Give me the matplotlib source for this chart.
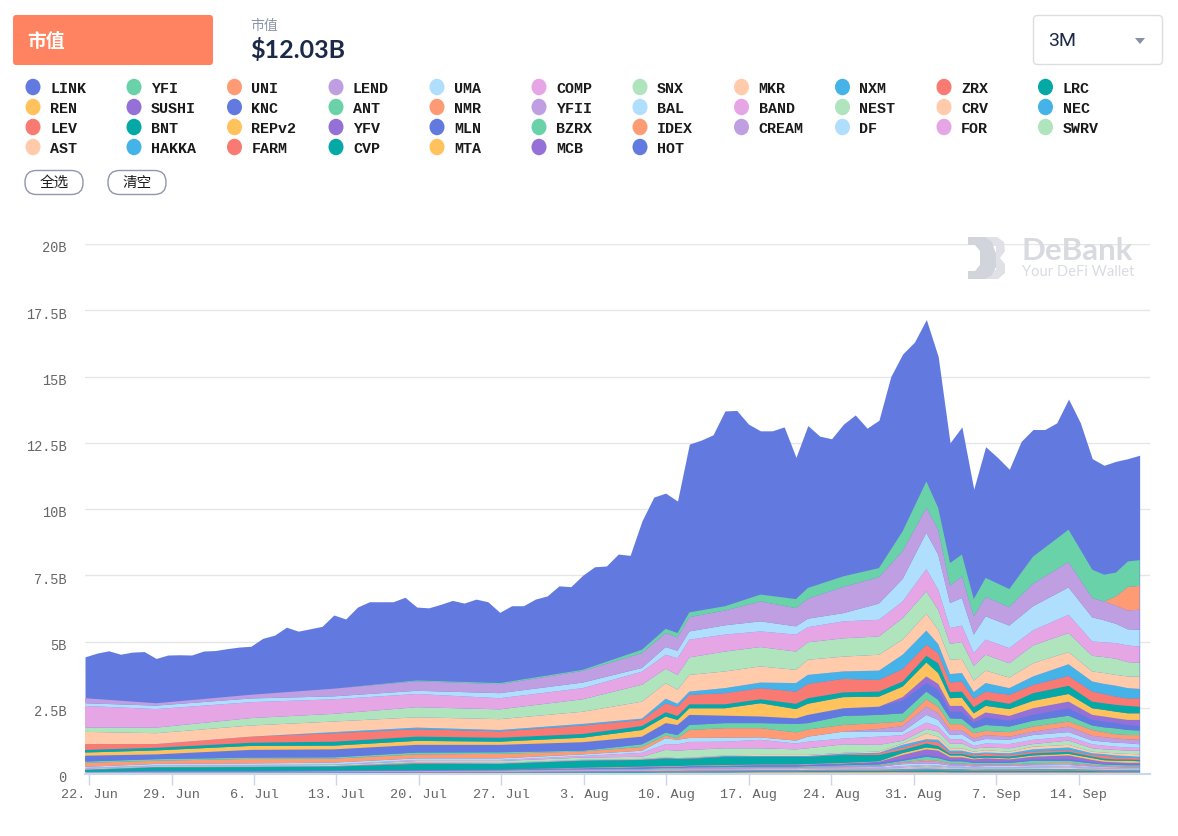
import numpy as np
import matplotlib
matplotlib.use("Agg")
import matplotlib.pyplot as plt
from matplotlib.patches import Ellipse, FancyBboxPatch, Polygon
from matplotlib.transforms import ScaledTranslation

W, H = 1178, 837

names = ["LINK", "YFI", "UNI", "LEND", "UMA", "COMP", "SNX", "MKR", "NXM", "ZRX", "LRC",
         "REN", "SUSHI", "KNC", "ANT", "NMR", "YFII", "BAL", "BAND", "NEST", "CRV", "NEC",
         "LEV", "BNT", "REPv2", "YFV", "MLN", "BZRX", "IDEX", "CREAM", "DF", "FOR", "SWRV",
         "AST", "HAKKA", "FARM", "CVP", "MTA", "MCB", "HOT"]
palette = ["#627ae0", "#6ad2a9", "#ff9b74", "#bf9fe2", "#b0dffe", "#e6a5e5", "#b0e4bc",
           "#ffcbab", "#46b3e8", "#f87a72", "#04a9a5", "#ffc25c", "#9570d6"]

tick_dates = ["22. Jun", "29. Jun", "6. Jul", "13. Jul", "20. Jul", "27. Jul", "3. Aug",
              "10. Aug", "17. Aug", "24. Aug", "31. Aug", "7. Sep", "14. Sep"]
y_ticks = [0, 2.5, 5, 7.5, 10, 12.5, 15, 17.5, 20]
y_labels = ["0", "2.5B", "5B", "7.5B", "10B", "12.5B", "15B", "17.5B", "20B"]

# total market cap, one value a day (billions), top edge of the LINK band
total_cap = [4.42, 4.56, 4.65, 4.52, 4.6, 4.62, 4.36, 4.49, 4.5, 4.49,
             4.64, 4.66, 4.73, 4.79, 4.82, 5.12, 5.24, 5.54, 5.39, 5.48,
             5.57, 6.0, 5.85, 6.3, 6.5, 6.5, 6.5, 6.67, 6.3, 6.27,
             6.4, 6.55, 6.45, 6.6, 6.5, 6.1, 6.35, 6.35, 6.6, 6.72,
             7.1, 7.07, 7.5, 7.82, 7.85, 8.3, 8.25, 9.55, 10.45, 10.6,
             10.3, 12.45, 12.6, 12.8, 13.7, 13.72, 13.2, 12.95, 12.95, 13.1,
             11.95, 13.15, 12.75, 12.65, 13.2, 13.55, 13.05, 13.35, 15.0, 15.85,
             16.3, 17.15, 15.75, 12.5, 13.1, 10.75, 12.35, 11.95, 11.5, 12.55,
             13.0, 13.0, 13.25, 14.15, 13.25, 11.9, 11.65, 11.8, 11.9, 12.03]

read_days = [0, 6, 14, 21, 28, 35, 42, 47, 49, 50, 51, 54, 57, 60, 61, 64,
             67, 69, 71, 72, 73, 74, 75, 76, 78, 80, 83, 85, 86, 87, 88, 89]

top_yfi = [2.86, 2.67, 2.99, 3.22, 3.53, 3.43, 3.93, 4.69, 5.48, 5.32, 6.1, 6.33, 6.77, 6.6, 7.02, 7.46,
           7.77, 9.16, 11.04, 10.04, 7.96, 8.28, 6.6, 7.4, 6.98, 8.2, 9.22, 7.71, 7.52, 7.6, 8.02, 8.07]
top_uni = [2.86, 2.67, 2.99, 3.22, 3.5, 3.39, 3.89, 4.56, 5.32, 5.15, 5.92, 6.17, 6.51, 6.26, 6.62, 7.06,
           7.43, 8.41, 10.04, 9.23, 7.1, 7.46, 5.95, 6.68, 6.3, 7.18, 8.0, 6.64, 6.51, 6.7, 7.06, 7.1]
top_lend = [2.86, 2.67, 2.99, 3.22, 3.5, 3.39, 3.89, 4.56, 5.32, 5.15, 5.92, 6.17, 6.51, 6.26, 6.62, 7.06,
            7.43, 8.41, 10.04, 9.23, 7.1, 7.46, 5.95, 6.68, 6.3, 7.18, 8.0, 6.64, 6.51, 6.35, 6.17, 6.2]
top_uma = [2.67, 2.58, 2.85, 2.93, 3.14, 3.05, 3.45, 4.0, 4.79, 4.65, 5.38, 5.61, 5.76, 5.57, 5.86, 6.07,
           6.43, 7.36, 9.1, 8.28, 6.45, 6.64, 5.26, 5.95, 5.6, 6.33, 7.04, 5.91, 5.8, 5.67, 5.46, 5.44]
top_comp = [2.57, 2.45, 2.71, 2.82, 3.02, 2.86, 3.24, 3.86, 4.5, 4.37, 5.07, 5.26, 5.38, 5.26, 5.54, 5.76,
            5.82, 6.51, 7.73, 6.96, 5.51, 5.6, 4.56, 5.07, 4.75, 5.42, 6.01, 5.0, 4.97, 4.94, 4.85, 4.81]
top_snx = [1.75, 1.75, 2.11, 2.27, 2.52, 2.44, 2.82, 3.37, 3.97, 3.74, 4.4, 4.62, 4.79, 4.62, 4.97, 5.12,
           5.19, 5.88, 6.89, 6.2, 4.91, 4.98, 4.08, 4.5, 4.18, 4.85, 5.32, 4.46, 4.41, 4.35, 4.22, 4.2]
top_mkr = [1.59, 1.54, 1.83, 1.98, 2.14, 2.07, 2.35, 2.73, 3.43, 3.18, 3.74, 3.87, 4.06, 3.93, 4.31, 4.43,
           4.5, 5.07, 6.05, 5.44, 4.31, 4.34, 3.52, 3.9, 3.64, 4.18, 4.6, 3.87, 3.81, 3.74, 3.68, 3.68]
top_nxm = [1.13, 1.13, 1.41, 1.58, 1.75, 1.66, 1.89, 2.09, 2.84, 2.65, 3.11, 3.24, 3.45, 3.43, 3.74, 3.87,
           3.9, 4.5, 5.41, 4.9, 3.77, 3.81, 3.09, 3.43, 3.24, 3.68, 4.14, 3.49, 3.4, 3.33, 3.24, 3.21]
top_zrx = [1.13, 1.13, 1.41, 1.54, 1.69, 1.61, 1.83, 2.04, 2.67, 2.54, 2.99, 3.05, 3.24, 3.11, 3.4, 3.59,
           3.55, 3.96, 4.88, 4.56, 3.45, 3.49, 2.84, 3.11, 2.99, 3.36, 3.7, 3.11, 3.02, 2.92, 2.85, 2.86]
top_lrc = [0.91, 0.99, 1.18, 1.22, 1.41, 1.37, 1.51, 1.81, 2.33, 2.19, 2.63, 2.63, 2.82, 2.65, 2.86, 3.08,
           3.11, 3.49, 4.46, 4.18, 3.09, 3.11, 2.52, 2.8, 2.65, 3.05, 3.33, 2.73, 2.67, 2.61, 2.57, 2.54]
top_ren = [0.81, 0.89, 1.06, 1.07, 1.25, 1.22, 1.37, 1.66, 2.17, 2.04, 2.48, 2.48, 2.67, 2.45, 2.65, 2.9,
           2.92, 3.3, 4.21, 3.81, 2.86, 2.88, 2.29, 2.57, 2.45, 2.76, 3.02, 2.48, 2.42, 2.35, 2.29, 2.29]
top_sushi = [0.69, 0.74, 0.91, 0.93, 1.1, 1.1, 1.2, 1.41, 1.92, 1.85, 2.23, 2.2, 2.17, 2.1, 2.23, 2.48,
             2.54, 2.9, 3.68, 3.4, 2.57, 2.57, 2.07, 2.32, 2.19, 2.48, 2.73, 2.23, 2.17, 2.1, 2.04, 2.04]
top_knc = [0.69, 0.74, 0.91, 0.93, 1.1, 1.1, 1.2, 1.41, 1.92, 1.85, 2.23, 2.2, 2.17, 2.1, 2.23, 2.48,
           2.54, 2.77, 3.43, 3.18, 2.35, 2.35, 1.94, 2.14, 2.01, 2.23, 2.48, 2.04, 1.98, 1.92, 1.85, 1.81]
top_ant = [0.47, 0.56, 0.62, 0.63, 0.81, 0.82, 0.88, 1.12, 1.56, 1.47, 1.85, 1.92, 1.92, 1.89, 1.92, 2.19,
           2.23, 2.29, 3.11, 2.8, 2.1, 2.08, 1.72, 1.85, 1.79, 2.01, 2.2, 1.83, 1.76, 1.72, 1.66, 1.64]
top_nmr = [0.42, 0.5, 0.57, 0.58, 0.74, 0.76, 0.85, 1.02, 1.45, 1.35, 1.66, 1.73, 1.73, 1.57, 1.68, 1.85,
           1.92, 1.98, 2.82, 2.54, 1.88, 1.88, 1.54, 1.63, 1.58, 1.79, 1.98, 1.66, 1.58, 1.5, 1.47, 1.47]
top_yfii = [0.27, 0.38, 0.4, 0.43, 0.59, 0.59, 0.74, 0.88, 1.35, 1.29, 1.36, 1.37, 1.38, 1.26, 1.41, 1.6,
            1.7, 1.81, 2.54, 2.29, 1.66, 1.66, 1.34, 1.47, 1.41, 1.6, 1.79, 1.44, 1.39, 1.34, 1.31, 1.29]
top_bal = [0.27, 0.38, 0.4, 0.43, 0.59, 0.59, 0.74, 0.88, 1.35, 1.29, 1.36, 1.37, 1.38, 1.26, 1.41, 1.6,
           1.6, 1.6, 2.23, 2.04, 1.47, 1.5, 1.22, 1.32, 1.29, 1.47, 1.58, 1.26, 1.22, 1.18, 1.16, 1.12]
top_band = [0.23, 0.32, 0.34, 0.36, 0.53, 0.53, 0.68, 0.8, 1.13, 1.12, 1.21, 1.22, 1.29, 1.15, 1.22, 1.34,
            1.41, 1.47, 1.94, 1.79, 1.31, 1.31, 1.06, 1.15, 1.13, 1.29, 1.41, 1.12, 1.07, 1.03, 1.0, 0.99]
top_nest = [0.2, 0.3, 0.32, 0.34, 0.49, 0.49, 0.62, 0.65, 0.91, 0.88, 0.91, 0.97, 0.97, 0.93, 0.97, 1.12,
            1.1, 1.25, 1.7, 1.6, 1.15, 1.15, 0.96, 1.0, 0.97, 1.13, 1.26, 0.97, 0.93, 0.91, 0.88, 0.88]
top_crv = [0.17, 0.27, 0.28, 0.3, 0.44, 0.42, 0.54, 0.57, 0.63, 0.6, 0.62, 0.7, 0.72, 0.72, 0.72, 0.8,
           0.85, 1.15, 1.53, 1.41, 0.97, 0.97, 0.84, 0.9, 0.84, 1.03, 1.1, 0.84, 0.81, 0.78, 0.76, 0.74]
top_nec = [0.17, 0.27, 0.28, 0.3, 0.42, 0.4, 0.52, 0.55, 0.61, 0.59, 0.6, 0.68, 0.68, 0.68, 0.68, 0.77,
           0.8, 1.1, 1.31, 1.29, 0.88, 0.88, 0.78, 0.81, 0.78, 0.93, 1.0, 0.78, 0.75, 0.7, 0.68, 0.65]
top_lev = [0.16, 0.26, 0.27, 0.29, 0.41, 0.39, 0.51, 0.54, 0.6, 0.58, 0.59, 0.66, 0.66, 0.66, 0.66, 0.74,
           0.78, 1.0, 1.25, 1.2, 0.81, 0.81, 0.72, 0.76, 0.72, 0.85, 0.9, 0.72, 0.7, 0.63, 0.62, 0.59]
top_bnt = [0.15, 0.25, 0.26, 0.28, 0.38, 0.38, 0.5, 0.53, 0.58, 0.57, 0.57, 0.65, 0.65, 0.65, 0.65, 0.72,
           0.72, 0.91, 1.15, 1.06, 0.76, 0.76, 0.66, 0.68, 0.66, 0.78, 0.84, 0.66, 0.58, 0.55, 0.55, 0.53]
top_repv2 = [0.08, 0.12, 0.12, 0.14, 0.15, 0.17, 0.24, 0.28, 0.3, 0.3, 0.32, 0.34, 0.36, 0.36, 0.38, 0.42,
             0.48, 0.79, 1.0, 0.95, 0.7, 0.7, 0.59, 0.62, 0.59, 0.7, 0.76, 0.6, 0.52, 0.5, 0.5, 0.48]
top_yfv = [0.08, 0.12, 0.12, 0.14, 0.15, 0.17, 0.22, 0.26, 0.28, 0.28, 0.3, 0.32, 0.34, 0.34, 0.36, 0.4,
           0.46, 0.72, 0.93, 0.88, 0.63, 0.63, 0.55, 0.59, 0.55, 0.65, 0.7, 0.53, 0.46, 0.44, 0.42, 0.42]
top_mln = [0.07, 0.1, 0.1, 0.12, 0.13, 0.15, 0.19, 0.22, 0.25, 0.25, 0.27, 0.29, 0.31, 0.31, 0.33, 0.37,
           0.42, 0.55, 0.72, 0.65, 0.53, 0.53, 0.46, 0.46, 0.46, 0.55, 0.56, 0.44, 0.38, 0.38, 0.36, 0.36]
top_bzrx = [0.07, 0.09, 0.09, 0.11, 0.12, 0.14, 0.18, 0.2, 0.23, 0.23, 0.25, 0.26, 0.28, 0.28, 0.3, 0.33,
            0.36, 0.5, 0.65, 0.6, 0.48, 0.48, 0.42, 0.42, 0.42, 0.5, 0.5, 0.4, 0.36, 0.34, 0.33, 0.33]
top_idex = [0.06, 0.08, 0.08, 0.1, 0.11, 0.13, 0.17, 0.18, 0.2, 0.2, 0.22, 0.23, 0.25, 0.25, 0.27, 0.3,
            0.32, 0.45, 0.53, 0.5, 0.4, 0.4, 0.36, 0.36, 0.36, 0.4, 0.42, 0.34, 0.31, 0.3, 0.28, 0.28]
top_cream = [0.06, 0.08, 0.08, 0.1, 0.11, 0.13, 0.17, 0.18, 0.2, 0.2, 0.22, 0.22, 0.24, 0.24, 0.26, 0.28,
             0.3, 0.42, 0.48, 0.45, 0.37, 0.37, 0.33, 0.33, 0.33, 0.37, 0.38, 0.31, 0.28, 0.27, 0.25, 0.25]
top_df = [0.06, 0.08, 0.08, 0.1, 0.11, 0.13, 0.16, 0.17, 0.19, 0.19, 0.2, 0.2, 0.22, 0.22, 0.24, 0.25,
          0.27, 0.37, 0.4, 0.38, 0.32, 0.32, 0.28, 0.3, 0.3, 0.33, 0.34, 0.28, 0.26, 0.25, 0.23, 0.23]
top_for = [0.05, 0.07, 0.07, 0.09, 0.1, 0.12, 0.15, 0.16, 0.18, 0.18, 0.19, 0.19, 0.2, 0.2, 0.22, 0.23,
           0.24, 0.3, 0.34, 0.32, 0.28, 0.28, 0.25, 0.26, 0.26, 0.28, 0.3, 0.25, 0.23, 0.22, 0.21, 0.21]
top_swrv = [0.05, 0.07, 0.07, 0.08, 0.09, 0.11, 0.13, 0.14, 0.16, 0.16, 0.17, 0.17, 0.18, 0.18, 0.2, 0.21,
            0.21, 0.25, 0.3, 0.28, 0.25, 0.25, 0.22, 0.23, 0.23, 0.25, 0.26, 0.22, 0.21, 0.2, 0.19, 0.19]
top_ast = [0.05, 0.07, 0.07, 0.08, 0.09, 0.11, 0.13, 0.14, 0.16, 0.16, 0.17, 0.17, 0.18, 0.18, 0.2, 0.21,
           0.2, 0.22, 0.25, 0.24, 0.22, 0.22, 0.2, 0.21, 0.21, 0.22, 0.23, 0.2, 0.19, 0.18, 0.17, 0.17]
top_hakka = [0.04, 0.06, 0.06, 0.07, 0.08, 0.09, 0.11, 0.12, 0.13, 0.13, 0.14, 0.14, 0.15, 0.15, 0.16, 0.17,
             0.17, 0.19, 0.21, 0.2, 0.19, 0.19, 0.17, 0.18, 0.18, 0.19, 0.19, 0.17, 0.16, 0.15, 0.15, 0.15]
top_farm = [0.04, 0.05, 0.05, 0.06, 0.07, 0.08, 0.09, 0.1, 0.11, 0.11, 0.12, 0.12, 0.13, 0.13, 0.14, 0.14,
            0.15, 0.16, 0.17, 0.17, 0.16, 0.16, 0.15, 0.15, 0.15, 0.16, 0.16, 0.14, 0.13, 0.13, 0.13, 0.12]
top_cvp = [0.03, 0.04, 0.04, 0.05, 0.05, 0.06, 0.07, 0.08, 0.09, 0.09, 0.09, 0.1, 0.1, 0.1, 0.11, 0.11,
           0.12, 0.13, 0.14, 0.14, 0.13, 0.13, 0.12, 0.12, 0.12, 0.12, 0.13, 0.11, 0.1, 0.1, 0.1, 0.1]
top_mta = [0.02, 0.03, 0.03, 0.03, 0.03, 0.04, 0.05, 0.05, 0.06, 0.06, 0.06, 0.06, 0.07, 0.07, 0.07, 0.07,
           0.07, 0.08, 0.08, 0.08, 0.07, 0.07, 0.07, 0.07, 0.07, 0.07, 0.07, 0.07, 0.07, 0.07, 0.07, 0.07]
top_mcb = [0.015, 0.02, 0.02, 0.02, 0.02, 0.03, 0.03, 0.03, 0.04, 0.04, 0.04, 0.04, 0.04, 0.04, 0.04, 0.04,
           0.04, 0.05, 0.05, 0.05, 0.05, 0.05, 0.05, 0.05, 0.05, 0.05, 0.05, 0.05, 0.05, 0.05, 0.05, 0.05]
top_hot = [0.01, 0.01, 0.01, 0.01, 0.01, 0.015, 0.015, 0.015, 0.015, 0.015, 0.015, 0.015, 0.015, 0.015, 0.015, 0.015,
           0.015, 0.02, 0.02, 0.02, 0.02, 0.02, 0.02, 0.02, 0.02, 0.02, 0.02, 0.02, 0.02, 0.02, 0.02, 0.02]

band_tops = [top_yfi, top_uni, top_lend, top_uma, top_comp, top_snx, top_mkr, top_nxm, top_zrx,
             top_lrc, top_ren, top_sushi, top_knc, top_ant, top_nmr, top_yfii, top_bal, top_band,
             top_nest, top_crv, top_nec, top_lev, top_bnt, top_repv2, top_yfv, top_mln, top_bzrx,
             top_idex, top_cream, top_df, top_for, top_swrv, top_ast, top_hakka, top_farm, top_cvp,
             top_mta, top_mcb, top_hot]

colors = [palette[i % len(palette)] for i in range(len(names))]


def px_rect(left, top, right, bottom):
    return [left / W, 1 - bottom / H, (right - left) / W, (bottom - top) / H]


fig = plt.figure(figsize=(W / 100, H / 100), dpi=100, facecolor="white")

# ---------------------------
# CHART
# ---------------------------
ax = fig.add_axes(px_rect(85, 245, 1150, 775))

ax.fill_between(np.arange(len(total_cap)), 0, total_cap, color=colors[0], lw=0, zorder=2)

# bottom band first, so the stack is built up from HOT
stack = np.array(band_tops[::-1], dtype=float)
values = np.diff(np.vstack([np.zeros(len(read_days)), stack]), axis=0)
ax.stackplot(read_days, values, colors=colors[1:][::-1], lw=0, zorder=3)

ax.set_xlim(0, 1065 / 11.85)
ax.set_ylim(0, 20)
ax.set_xticks(0.34 + 6.96 * np.arange(len(tick_dates)))
ax.set_xticklabels(tick_dates, family="Liberation Mono", fontsize=9.7, color="#666666")
ax.set_yticks(y_ticks)
ax.set_yticklabels(y_labels, family="Liberation Mono", fontsize=9.8, color="#666666")
ax.tick_params(axis="x", length=8, width=1, color="#ccd6eb", pad=2)
ax.tick_params(axis="y", length=0, pad=13.5)
ax.grid(axis="y", color="#e6e6e6", lw=1, zorder=1)
ax.set_axisbelow(True)
for side in ["top", "left", "right"]:
    ax.spines[side].set_visible(False)
ax.spines["bottom"].set_color("#ccd6eb")
ax.spines["bottom"].set_linewidth(1.5)
ax.spines["bottom"].set_zorder(6)
# labels sit about 2px under their grid lines
nudge = ScaledTranslation(0, -2 / 100, fig.dpi_scale_trans)
for lab in ax.get_yticklabels():
    lab.set_transform(lab.get_transform() + nudge)

# ---------------------------
# PAGE PARTS, drawn in pixels
# ---------------------------
ui = fig.add_axes([0, 0, 1, 1], facecolor="none")
ui.set_xlim(0, W)
ui.set_ylim(H, 0)
ui.axis("off")

cjk = ["Noto Sans CJK SC", "DejaVu Sans"]


def round_box(left, top, right, bottom, rad, **kw):
    ui.add_patch(FancyBboxPatch((left + rad, top + rad), right - left - 2 * rad, bottom - top - 2 * rad,
                                boxstyle=f"round,pad={rad},rounding_size={rad}", **kw))


round_box(13, 16, 213, 66, 3, fc="#ff8360", ec="none")
ui.text(27, 41, "市值", family=cjk, fontsize=13.5, fontweight="bold", color="white", va="center")
ui.text(250, 26, "市值", family=cjk, fontsize=10, color="#8c96a8", va="center")
ui.text(250, 50, "$12.03B", family="Lato", fontsize=18, fontweight="bold", color="#1c2a4a", va="center")

round_box(1033.5, 16.5, 1162.5, 65.5, 4, fc="white", ec="#dddddd", lw=1)
ui.text(1048, 41, "3M", family="Roboto", fontsize=14, color="#1c2a4a", va="center")
ui.add_patch(Polygon([(1135, 39), (1145, 39), (1140, 45)], fc="#8a8fa5", ec="none"))

legend_x = [33, 134, 234.5, 336, 437, 539, 640, 741.5, 842.5, 944, 1045.5]
legend_y = [88, 108, 128, 148]
for i, name in enumerate(names):
    cx, cy = legend_x[i % 11], legend_y[i // 11]
    ui.add_patch(Ellipse((cx, cy), 15, 16.5, fc=colors[i], ec="none"))
    ui.text(cx + 17, cy + 0.5, name, family="Liberation Mono", fontweight="bold", fontsize=10.8,
            color="#1a1a1a", va="center")

for left, right, label in [(25, 83, "全选"), (108, 166, "清空")]:
    round_box(left, 171.5, right, 195.5, 11.5, fc="white", ec="#8f96ad", lw=1)
    ui.text((left + right) / 2, 183, label, family=cjk, fontsize=10.5, color="#1a1a1a",
            ha="center", va="center")

# watermark
logo_b = [(983, 238), (997, 238), (1004, 243), (1005, 252), (1000, 259), (1005, 265), (1005, 274),
          (998, 280), (983, 280)]
logo_d = [(968, 238), (985, 238), (992, 243), (996, 255), (996, 268), (992, 276), (985, 280), (968, 280),
          (968, 272), (975, 272), (980, 266), (980, 252), (975, 246), (968, 246)]
ui.add_patch(Polygon(logo_b, fc="#dfe1e6", ec="none"))
ui.add_patch(Polygon([(991, 247), (996, 247), (996, 253), (991, 253)], fc="white", ec="none"))
ui.add_patch(Polygon([(991, 265), (996, 265), (996, 271), (991, 271)], fc="white", ec="none"))
ui.add_patch(Polygon(logo_d, fc="#d2d4db", ec="none"))
ui.text(1022, 251, "DeBank", family="Lato", fontweight="bold", fontsize=22.5, color="#d8dae0", va="center")
ui.text(1022, 272, "Your DeFi Wallet", family="Lato", fontsize=10.6, color="#dadce2", va="center")

fig.savefig("out.png", dpi=100)
